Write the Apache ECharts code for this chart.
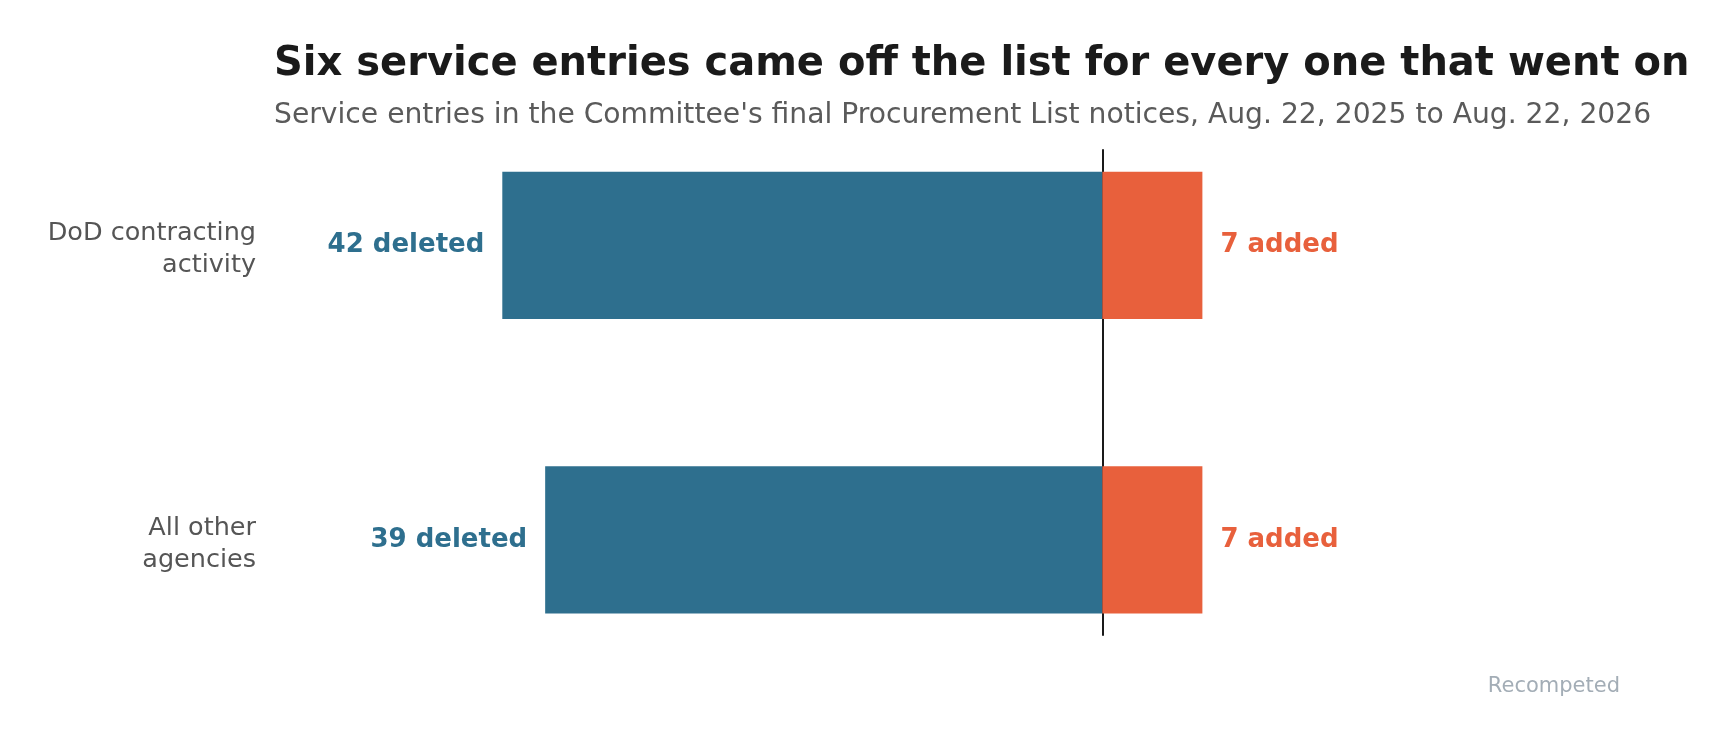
<!DOCTYPE html>
<html>
<head>
<meta charset="utf-8">
<script src="https://cdn.jsdelivr.net/npm/echarts@6/dist/echarts.min.js"></script>
<style>
  html, body { margin: 0; padding: 0; background: #fff; }
  #chart { width: 1731px; height: 742px; }
</style>
</head>
<body>
<div id="chart"></div>
<script>
// data
const categories = ["DoD contracting\nactivity", "All other\nagencies"];
const deleted = [42, 39];
const added = [7, 7];

const BLUE = "#2e6f8e";
const ORANGE = "#e8603c";
const FONT = "DejaVu Sans";

const chart = echarts.init(document.getElementById("chart"));

const xRange = { min: -50, max: 30 };

const option = {
  backgroundColor: "#fff",
  animation: false,
  title: [
    {
      text: "Six service entries came off the list for every one that went on",
      left: 269,
      top: 40,
      textStyle: { fontFamily: FONT, fontSize: 40, fontWeight: "bold", color: "#1a1a1a" }
    },
    {
      text: "Service entries in the Committee's final Procurement List notices, Aug. 22, 2025 to Aug. 22, 2026",
      left: 269,
      top: 97,
      textStyle: { fontFamily: FONT, fontSize: 28.2, fontWeight: "normal", color: "#5a5a5a" }
    },
    {
      text: "Recompeted",
      right: 106,
      top: 671,
      textStyle: { fontFamily: FONT, fontSize: 21, fontWeight: "normal", color: "#a3adb6" }
    }
  ],
  grid: [
    { left: 388, width: 1143, top: 98, height: 589 },
    { left: 388, width: 1143, top: 150, height: 485 }
  ],
  xAxis: [
    { gridIndex: 0, type: "value", min: xRange.min, max: xRange.max, show: false },
    { gridIndex: 1, type: "value", min: xRange.min, max: xRange.max, show: false }
  ],
  yAxis: [
    {
      gridIndex: 0,
      type: "category",
      data: categories,
      inverse: true,
      axisLine: { show: false },
      axisTick: { show: false },
      axisLabel: {
        margin: 132,
        fontFamily: FONT,
        fontSize: 25.5,
        color: "#555",
        align: "right",
        // a thin empty first line nudges the two-line label a little lower
        formatter: v => "{s|}\n" + v.split("\n").map(s => "{l|" + s + "}").join("\n"),
        rich: {
          s: { fontSize: 6, lineHeight: 9 },
          l: { fontFamily: FONT, fontSize: 25.5, color: "#555", lineHeight: 32 }
        }
      }
    },
    {
      // zero reference line
      gridIndex: 1,
      type: "value",
      min: 0,
      max: 1,
      splitLine: { show: false },
      axisLabel: { show: false },
      axisTick: { show: false },
      axisLine: { show: true, onZero: true, lineStyle: { color: "#1a1a1a", width: 2 } }
    }
  ],
  series: [
    {
      name: "Deleted",
      type: "bar",
      stack: "net",
      barWidth: "50%",
      data: deleted.map(v => -v),
      itemStyle: { color: BLUE },
      label: {
        show: true,
        position: "left",
        distance: 18,
        formatter: p => Math.abs(p.value) + " deleted",
        fontFamily: FONT,
        fontSize: 26,
        fontWeight: "bold",
        color: BLUE
      }
    },
    {
      name: "Added",
      type: "bar",
      stack: "net",
      barWidth: "50%",
      data: added,
      itemStyle: { color: ORANGE },
      label: {
        show: true,
        position: "right",
        distance: 18,
        formatter: p => p.value + " added",
        fontFamily: FONT,
        fontSize: 26,
        fontWeight: "bold",
        color: ORANGE
      }
    }
  ]
};

chart.setOption(option);
</script>
</body>
</html>
